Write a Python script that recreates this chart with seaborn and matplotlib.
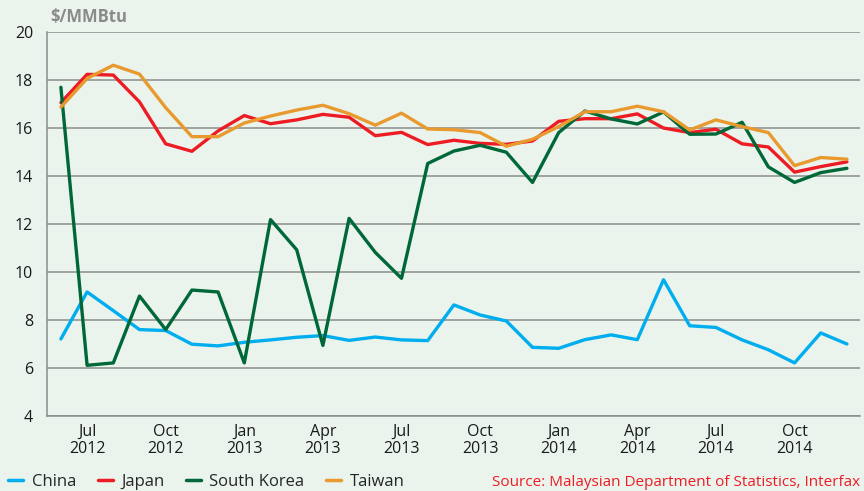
import pandas as pd
import matplotlib
matplotlib.use('Agg')
import matplotlib.pyplot as plt
import seaborn as sns
from matplotlib.lines import Line2D

# monthly LNG import prices, Jun 2012 - Dec 2014
months = pd.date_range("2012-06-01", "2014-12-01", freq="MS")

china = [7.21, 9.17, 8.39, 7.60, 7.56, 6.99, 6.92, 7.07, 7.17, 7.28, 7.35, 7.15, 7.29, 7.17, 7.14, 8.63,
         8.21, 7.96, 6.86, 6.82, 7.18, 7.38, 7.18, 9.68, 7.76, 7.69, 7.17, 6.76, 6.21, 7.46, 7.00]
japan = [17.07, 18.25, 18.22, 17.10, 15.35, 15.04, 15.89, 16.53, 16.19, 16.35, 16.58, 16.46, 15.69, 15.83, 15.32, 15.50,
         15.37, 15.33, 15.47, 16.29, 16.40, 16.40, 16.60, 16.01, 15.82, 15.96, 15.35, 15.22, 14.17, 14.40, 14.60]
south_korea = [17.71, 6.11, 6.21, 9.00, 7.60, 9.25, 9.17, 6.21, 12.19, 10.93, 6.94, 12.24, 10.82, 9.74, 14.53, 15.05,
               15.29, 15.00, 13.74, 15.82, 16.72, 16.39, 16.18, 16.68, 15.75, 15.76, 16.25, 14.39, 13.74, 14.15, 14.33]
taiwan = [16.88, 18.08, 18.63, 18.26, 16.86, 15.65, 15.65, 16.22, 16.51, 16.76, 16.96, 16.61, 16.13, 16.63, 15.97, 15.94,
          15.82, 15.25, 15.54, 16.07, 16.69, 16.69, 16.92, 16.69, 15.93, 16.35, 16.07, 15.82, 14.44, 14.78, 14.71]

countries = ["China", "Japan", "South Korea", "Taiwan"]
colors = ["#00AEEF", "#ED1C24", "#006838", "#E99A2F"]

tick_pos = [1, 4, 7, 10, 13, 16, 19, 22, 25, 28]
tick_labels = ["Jul\n2012", "Oct\n2012", "Jan\n2013", "Apr\n2013", "Jul\n2013",
               "Oct\n2013", "Jan\n2014", "Apr\n2014", "Jul\n2014", "Oct\n2014"]

df = pd.DataFrame({"idx": range(len(months)), "China": china, "Japan": japan,
                   "South Korea": south_korea, "Taiwan": taiwan})
long_df = df.melt(id_vars="idx", var_name="country", value_name="price")

sns.set_style("white")
plt.rcParams['font.family'] = ['Open Sans', 'DejaVu Sans']

bg = "#EAF4EC"
fig = plt.figure(figsize=(8.64, 4.91), dpi=100, facecolor=bg)
ax = fig.add_axes([0.0544, 0.153, 0.941, 0.781])
ax.set_facecolor(bg)

sns.lineplot(data=long_df, x="idx", y="price", hue="country", hue_order=countries,
             palette=colors, linewidth=2.4, ax=ax, legend=False)

ax.set_xlim(-0.53, 30.5)
ax.set_ylim(4, 20)
ax.set_yticks(range(4, 21, 2))
ax.set_xticks(tick_pos)
ax.set_xticklabels(tick_labels, linespacing=1.05)
ax.tick_params(axis="both", length=0, labelsize=11.5, colors="#1a1a1a")
ax.tick_params(axis="x", pad=6)
ax.tick_params(axis="y", pad=10)
ax.set_xlabel("")
ax.set_ylabel("")
ax.grid(axis="y", color="#8C8C8C", linewidth=1.1)
ax.set_axisbelow(True)
for s in ["top", "right"]:
    ax.spines[s].set_visible(False)
ax.spines["left"].set_color("#8C8C8C")
ax.spines["bottom"].set_color("#8C8C8C")
ax.spines["left"].set_linewidth(1.1)
ax.spines["bottom"].set_linewidth(1.1)

fig.text(0.058, 0.965, "\\$/MMBtu", fontsize=12, fontweight="bold", color="#8A8A8A", va="center")

handles = [Line2D([0], [0], color=c, linewidth=2.5) for c in colors]
fig.legend(handles, countries, loc="center left", bbox_to_anchor=(0.0, 0.018), ncol=4,
           frameon=False, fontsize=12, handlelength=0.9, handletextpad=0.5, columnspacing=1.3,
           borderpad=0, borderaxespad=0.5)

fig.text(0.995, 0.018, "Source: Malaysian Department of Statistics, Interfax",
         color="#ED1C24", fontsize=11, ha="right", va="center")

plt.savefig("out.png", dpi=100, facecolor=bg)
